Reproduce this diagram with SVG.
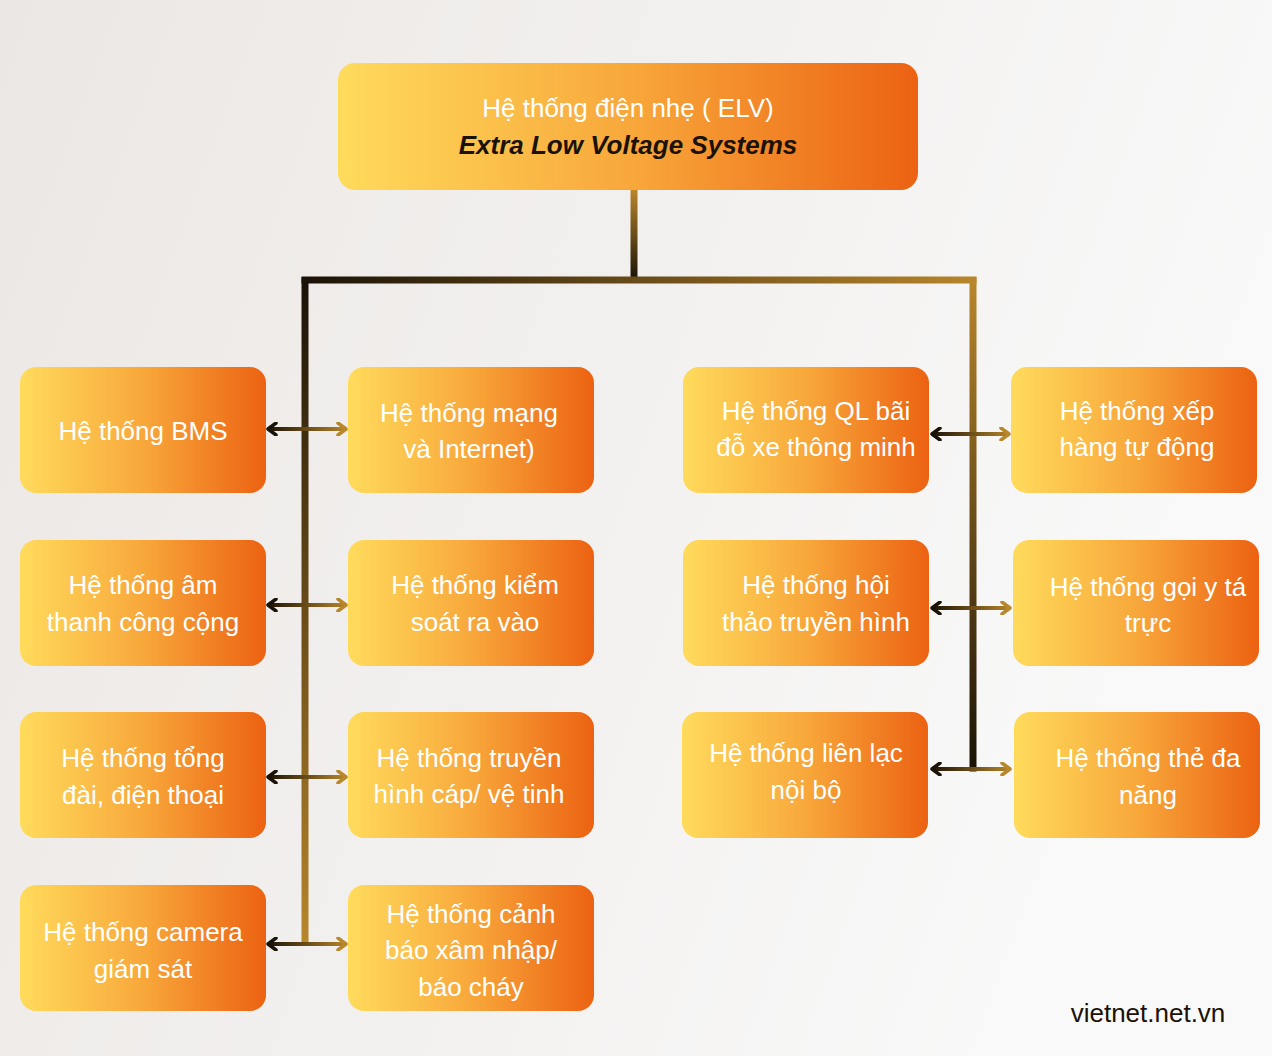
<svg xmlns="http://www.w3.org/2000/svg" width="1272" height="1056" viewBox="0 0 1272 1056">
<defs>
<linearGradient id="bg" x1="0" y1="0" x2="1" y2="0.3"><stop offset="0" stop-color="#ebe7e4"/><stop offset="1" stop-color="#f9f9f9"/></linearGradient>
<linearGradient id="nodeFill" x1="0" y1="0" x2="1" y2="0"><stop offset="0" stop-color="#ffdb5c"/><stop offset="0.5" stop-color="#f8a83b"/><stop offset="1" stop-color="#ec6212"/></linearGradient>
<linearGradient id="gTrunk" gradientUnits="userSpaceOnUse" x1="0" y1="190" x2="0" y2="280"><stop offset="0" stop-color="#b8862b"/><stop offset="1" stop-color="#1a1206"/></linearGradient>
<linearGradient id="gHor" gradientUnits="userSpaceOnUse" x1="302" y1="0" x2="977" y2="0"><stop offset="0" stop-color="#1a1206"/><stop offset="1" stop-color="#b8862b"/></linearGradient>
<linearGradient id="gLeftV" gradientUnits="userSpaceOnUse" x1="0" y1="280" x2="0" y2="942"><stop offset="0" stop-color="#1a1206"/><stop offset="1" stop-color="#b8862b"/></linearGradient>
<linearGradient id="gRightV" gradientUnits="userSpaceOnUse" x1="0" y1="280" x2="0" y2="770"><stop offset="0" stop-color="#b8862b"/><stop offset="1" stop-color="#1a1206"/></linearGradient>
<linearGradient id="gArrL" gradientUnits="userSpaceOnUse" x1="267" y1="0" x2="347" y2="0"><stop offset="0" stop-color="#1a1206"/><stop offset="1" stop-color="#b8862b"/></linearGradient>
<linearGradient id="gArrR" gradientUnits="userSpaceOnUse" x1="931" y1="0" x2="1011" y2="0"><stop offset="0" stop-color="#1a1206"/><stop offset="1" stop-color="#b8862b"/></linearGradient>
<marker id="headDark" viewBox="0 0 12 14" refX="2" refY="7" markerWidth="12" markerHeight="14" markerUnits="userSpaceOnUse" orient="auto"><path d="M10,1 L2,7 L10,13" fill="none" stroke="#1a1206" stroke-width="3.5" stroke-linecap="round" stroke-linejoin="round"/></marker>
<marker id="headGold" viewBox="0 0 12 14" refX="10" refY="7" markerWidth="12" markerHeight="14" markerUnits="userSpaceOnUse" orient="auto"><path d="M2,1 L10,7 L2,13" fill="none" stroke="#b8862b" stroke-width="3.5" stroke-linecap="round" stroke-linejoin="round"/></marker>
</defs>
<style>
.node rect{fill:url(#nodeFill)}
.t{font-family:"Liberation Sans",Arial,sans-serif;font-size:26px;fill:#ffffff;text-anchor:middle}
.ttl{font-family:"Liberation Sans",Arial,sans-serif;font-size:26px;text-anchor:middle}
.bus{fill:none;stroke-width:7;stroke-linecap:square}
.arr{fill:none;stroke-width:4}
</style>
<rect width="1272" height="1056" fill="url(#bg)"/>
<g id="connectors">
<line class="bus" x1="634" y1="191" x2="634" y2="279" stroke="url(#gTrunk)"/>
<line class="bus" x1="305" y1="280" x2="973" y2="280" stroke="url(#gHor)"/>
<line class="bus" x1="305" y1="281" x2="305" y2="941" stroke="url(#gLeftV)"/>
<line class="bus" x1="973" y1="281" x2="973" y2="768" stroke="url(#gRightV)"/>
<line class="arr" x1="268" y1="429" x2="346" y2="429" stroke="url(#gArrL)" marker-start="url(#headDark)" marker-end="url(#headGold)"/>
<line class="arr" x1="268" y1="605" x2="346" y2="605" stroke="url(#gArrL)" marker-start="url(#headDark)" marker-end="url(#headGold)"/>
<line class="arr" x1="268" y1="777" x2="346" y2="777" stroke="url(#gArrL)" marker-start="url(#headDark)" marker-end="url(#headGold)"/>
<line class="arr" x1="268" y1="944" x2="346" y2="944" stroke="url(#gArrL)" marker-start="url(#headDark)" marker-end="url(#headGold)"/>
<line class="arr" x1="932" y1="434" x2="1009" y2="434" stroke="url(#gArrR)" marker-start="url(#headDark)" marker-end="url(#headGold)"/>
<line class="arr" x1="932" y1="608" x2="1010" y2="608" stroke="url(#gArrR)" marker-start="url(#headDark)" marker-end="url(#headGold)"/>
<line class="arr" x1="932" y1="769" x2="1010" y2="769" stroke="url(#gArrR)" marker-start="url(#headDark)" marker-end="url(#headGold)"/>
</g>
<g id="root" class="node"><rect x="338" y="63" width="580" height="127" rx="17"/>
<text class="ttl" x="628" y="117" fill="#ffffff">Hệ thống điện nhẹ ( ELV)</text>
<text class="ttl" x="628" y="154" fill="#1a1206" font-weight="bold" font-style="italic">Extra Low Voltage Systems</text></g>
<g id="n-bms" class="node"><rect x="20" y="367" width="246" height="126" rx="16"/><text class="t" x="143" y="440">Hệ thống BMS</text></g>
<g id="n-mang" class="node"><rect x="348" y="367" width="246" height="126" rx="16"/><text class="t" x="469" y="422">Hệ thống mạng</text><text class="t" x="469" y="458">và Internet)</text></g>
<g id="n-baixe" class="node"><rect x="683" y="367" width="246" height="126" rx="16"/><text class="t" x="816" y="420">Hệ thống QL bãi</text><text class="t" x="816" y="456">đỗ xe thông minh</text></g>
<g id="n-xephang" class="node"><rect x="1011" y="367" width="246" height="126" rx="16"/><text class="t" x="1137" y="420">Hệ thống xếp</text><text class="t" x="1137" y="456">hàng tự động</text></g>
<g id="n-amthanh" class="node"><rect x="20" y="540" width="246" height="126" rx="16"/><text class="t" x="143" y="594">Hệ thống âm</text><text class="t" x="143" y="631">thanh công cộng</text></g>
<g id="n-kiemsoat" class="node"><rect x="348" y="540" width="246" height="126" rx="16"/><text class="t" x="475" y="594">Hệ thống kiểm</text><text class="t" x="475" y="631">soát ra vào</text></g>
<g id="n-hoithao" class="node"><rect x="683" y="540" width="246" height="126" rx="16"/><text class="t" x="816" y="594">Hệ thống hội</text><text class="t" x="816" y="631">thảo truyền hình</text></g>
<g id="n-goiyta" class="node"><rect x="1013" y="540" width="246" height="126" rx="16"/><text class="t" x="1148" y="596">Hệ thống gọi y tá</text><text class="t" x="1148" y="632">trực</text></g>
<g id="n-tongdai" class="node"><rect x="20" y="712" width="246" height="126" rx="16"/><text class="t" x="143" y="767">Hệ thống tổng</text><text class="t" x="143" y="804">đài, điện thoại</text></g>
<g id="n-truyenhinh" class="node"><rect x="348" y="712" width="246" height="126" rx="16"/><text class="t" x="469" y="767">Hệ thống truyền</text><text class="t" x="469" y="803">hình cáp/ vệ tinh</text></g>
<g id="n-lienlac" class="node"><rect x="682" y="712" width="246" height="126" rx="16"/><text class="t" x="806" y="762">Hệ thống liên lạc</text><text class="t" x="806" y="799">nội bộ</text></g>
<g id="n-the" class="node"><rect x="1014" y="712" width="246" height="126" rx="16"/><text class="t" x="1148" y="767">Hệ thống thẻ đa</text><text class="t" x="1148" y="804">năng</text></g>
<g id="n-camera" class="node"><rect x="20" y="885" width="246" height="126" rx="16"/><text class="t" x="143" y="941">Hệ thống camera</text><text class="t" x="143" y="978">giám sát</text></g>
<g id="n-canhbao" class="node"><rect x="348" y="885" width="246" height="126" rx="16"/><text class="t" x="471" y="923">Hệ thống cảnh</text><text class="t" x="471" y="959">báo xâm nhập/</text><text class="t" x="471" y="996">báo cháy</text></g>
<text x="1148" y="1022" font-family="'Liberation Sans',Arial,sans-serif" font-size="26" fill="#1a1206" text-anchor="middle">vietnet.net.vn</text>
</svg>
